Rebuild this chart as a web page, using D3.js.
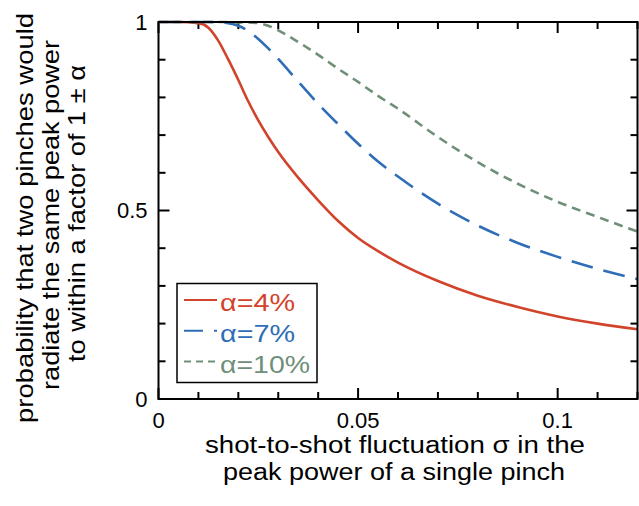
<html>
<head>
<meta charset="utf-8">
<script src="https://cdn.jsdelivr.net/npm/d3@7"></script>
<style>
  body { margin: 0; background: #fff; }
  text { font-family: "Liberation Sans", Arial, Helvetica, sans-serif; }
</style>
</head>
<body>
<div id="chart"></div>
<script>
// sigma values (x) shared by all three curves
var sigma = [0, 0.005, 0.01, 0.0125, 0.015, 0.0175, 0.02, 0.0225, 0.025, 0.0275, 0.03, 0.035, 0.04, 0.045, 0.05, 0.055, 0.06, 0.07, 0.08, 0.09, 0.1, 0.11, 0.12];
var alpha4  = [1, 1, 0.997, 0.985, 0.95, 0.9, 0.846, 0.789, 0.739, 0.695, 0.655, 0.587, 0.527, 0.472, 0.427, 0.392, 0.362, 0.313, 0.274, 0.244, 0.219, 0.2, 0.185];
var alpha7  = [1, 1, 1, 1, 0.999, 0.997, 0.99, 0.976, 0.955, 0.93, 0.902, 0.842, 0.783, 0.729, 0.677, 0.63, 0.59, 0.518, 0.46, 0.414, 0.377, 0.345, 0.318];
var alpha10 = [1, 1, 1, 1, 1, 1, 0.999, 0.999, 0.997, 0.99, 0.978, 0.947, 0.913, 0.876, 0.841, 0.804, 0.77, 0.695, 0.628, 0.571, 0.523, 0.483, 0.444];
var seriesNames = ["α=4%", "α=7%", "α=10%"];
var xTicks = [0, 0.05, 0.1];
var yTicks = [0, 0.5, 1];

var width = 639, height = 506;
var margin = { top: 22, right: 1.5, bottom: 107, left: 158.5 };

var svg = d3.select("#chart").append("svg")
  .attr("width", width).attr("height", height);

var x = d3.scaleLinear().domain([0, 0.12]).range([margin.left, width - margin.right]);
var y = d3.scaleLinear().domain([0, 1]).range([height - margin.bottom, margin.top]);

var x0 = x.range()[0], x1 = x.range()[1], y0 = y.range()[0], y1 = y.range()[1];

// ticks on all four sides, pointing inward
var xMinor = d3.range(0, 0.1201, 0.01);
var yMinor = d3.range(0, 1.001, 0.1);
function isMajor(v, list) { return list.some(function(t) { return Math.abs(t - v) < 1e-6; }); }

var tickG = svg.append("g").attr("stroke", "#000").attr("stroke-width", 2);
xMinor.forEach(function(v) {
  var len = isMajor(v, xTicks) ? 11 : 7;
  tickG.append("line").attr("x1", x(v)).attr("x2", x(v)).attr("y1", y0).attr("y2", y0 - len);
  tickG.append("line").attr("x1", x(v)).attr("x2", x(v)).attr("y1", y1).attr("y2", y1 + len);
});
yMinor.forEach(function(v) {
  var len = isMajor(v, yTicks) ? 11 : 7;
  tickG.append("line").attr("y1", y(v)).attr("y2", y(v)).attr("x1", x0).attr("x2", x0 + len);
  tickG.append("line").attr("y1", y(v)).attr("y2", y(v)).attr("x1", x1).attr("x2", x1 - len);
});

// tick labels
svg.append("g").selectAll("text").data(xTicks).enter().append("text")
  .attr("x", function(d) { return x(d); })
  .attr("y", y0 + 29)
  .attr("text-anchor", "middle")
  .attr("font-size", "22px")
  .text(function(d) { return d === 0 ? "0" : String(d); });

svg.append("g").selectAll("text").data(yTicks).enter().append("text")
  .attr("x", x0 - 11)
  .attr("y", function(d) { return y(d) + 7.5; })
  .attr("text-anchor", "end")
  .attr("font-size", "22px")
  .text(function(d) { return String(d); });

// curves
var colors = ["#d2432b", "#2f6db6", "#6f8f79"];
var dashes = [null, "22,11", "9,6"];
var values = [alpha4, alpha7, alpha10];

var line = d3.line()
  .x(function(d) { return x(d[0]); })
  .y(function(d) { return y(d[1]); })
  .curve(d3.curveMonotoneX);

values.forEach(function(vals, i) {
  var pts = sigma.map(function(s, j) { return [s, vals[j]]; });
  svg.append("path")
    .datum(pts)
    .attr("fill", "none")
    .attr("stroke", colors[i])
    .attr("stroke-width", 2.6)
    .attr("stroke-dasharray", dashes[i])
    .attr("d", line);
});

// frame
svg.append("rect")
  .attr("x", x0).attr("y", y1)
  .attr("width", x1 - x0).attr("height", y0 - y1)
  .attr("fill", "none").attr("stroke", "#000").attr("stroke-width", 2);

// legend
var legend = svg.append("g");
legend.append("rect")
  .attr("x", 177).attr("y", 283.5).attr("width", 140).attr("height", 99)
  .attr("fill", "#fff").attr("stroke", "#000").attr("stroke-width", 1.5);
var legendDash = [null, "19,11", "7,5"];
var legendLen = [75, 75, 90];
seriesNames.forEach(function(name, i) {
  var ly = 300 + i * 30.8;
  legend.append("line")
    .attr("x1", 184).attr("x2", 217).attr("y1", ly).attr("y2", ly)
    .attr("stroke", colors[i]).attr("stroke-width", 2)
    .attr("stroke-dasharray", legendDash[i]);
  legend.append("text")
    .attr("x", 220).attr("y", ly + 11)
    .attr("font-size", "23px")
    .attr("fill", colors[i])
    .attr("textLength", legendLen[i])
    .attr("lengthAdjust", "spacingAndGlyphs")
    .text(name);
});

// axis titles
var xt = svg.append("text")
  .attr("text-anchor", "middle")
  .attr("font-size", "23px");
xt.append("tspan").attr("x", 395).attr("y", 453)
  .attr("textLength", 380).attr("lengthAdjust", "spacingAndGlyphs")
  .text("shot-to-shot fluctuation σ in the");
xt.append("tspan").attr("x", 394).attr("y", 480)
  .attr("textLength", 342).attr("lengthAdjust", "spacingAndGlyphs")
  .text("peak power of a single pinch");

var ytLines = ["probability that two pinches would", "radiate the same peak power", "to within a factor of 1 ± α"];
var ytLen = [410, 350, 297];
var ytCenter = [218, 215, 213.5];
var yt = svg.append("text")
  .attr("transform", "rotate(-90)")
  .attr("text-anchor", "middle")
  .attr("font-size", "24px");
ytLines.forEach(function(t, i) {
  yt.append("tspan").attr("x", -ytCenter[i]).attr("y", 33 + i * 26)
    .attr("textLength", ytLen[i]).attr("lengthAdjust", "spacingAndGlyphs")
    .text(t);
});
</script>
</body>
</html>
